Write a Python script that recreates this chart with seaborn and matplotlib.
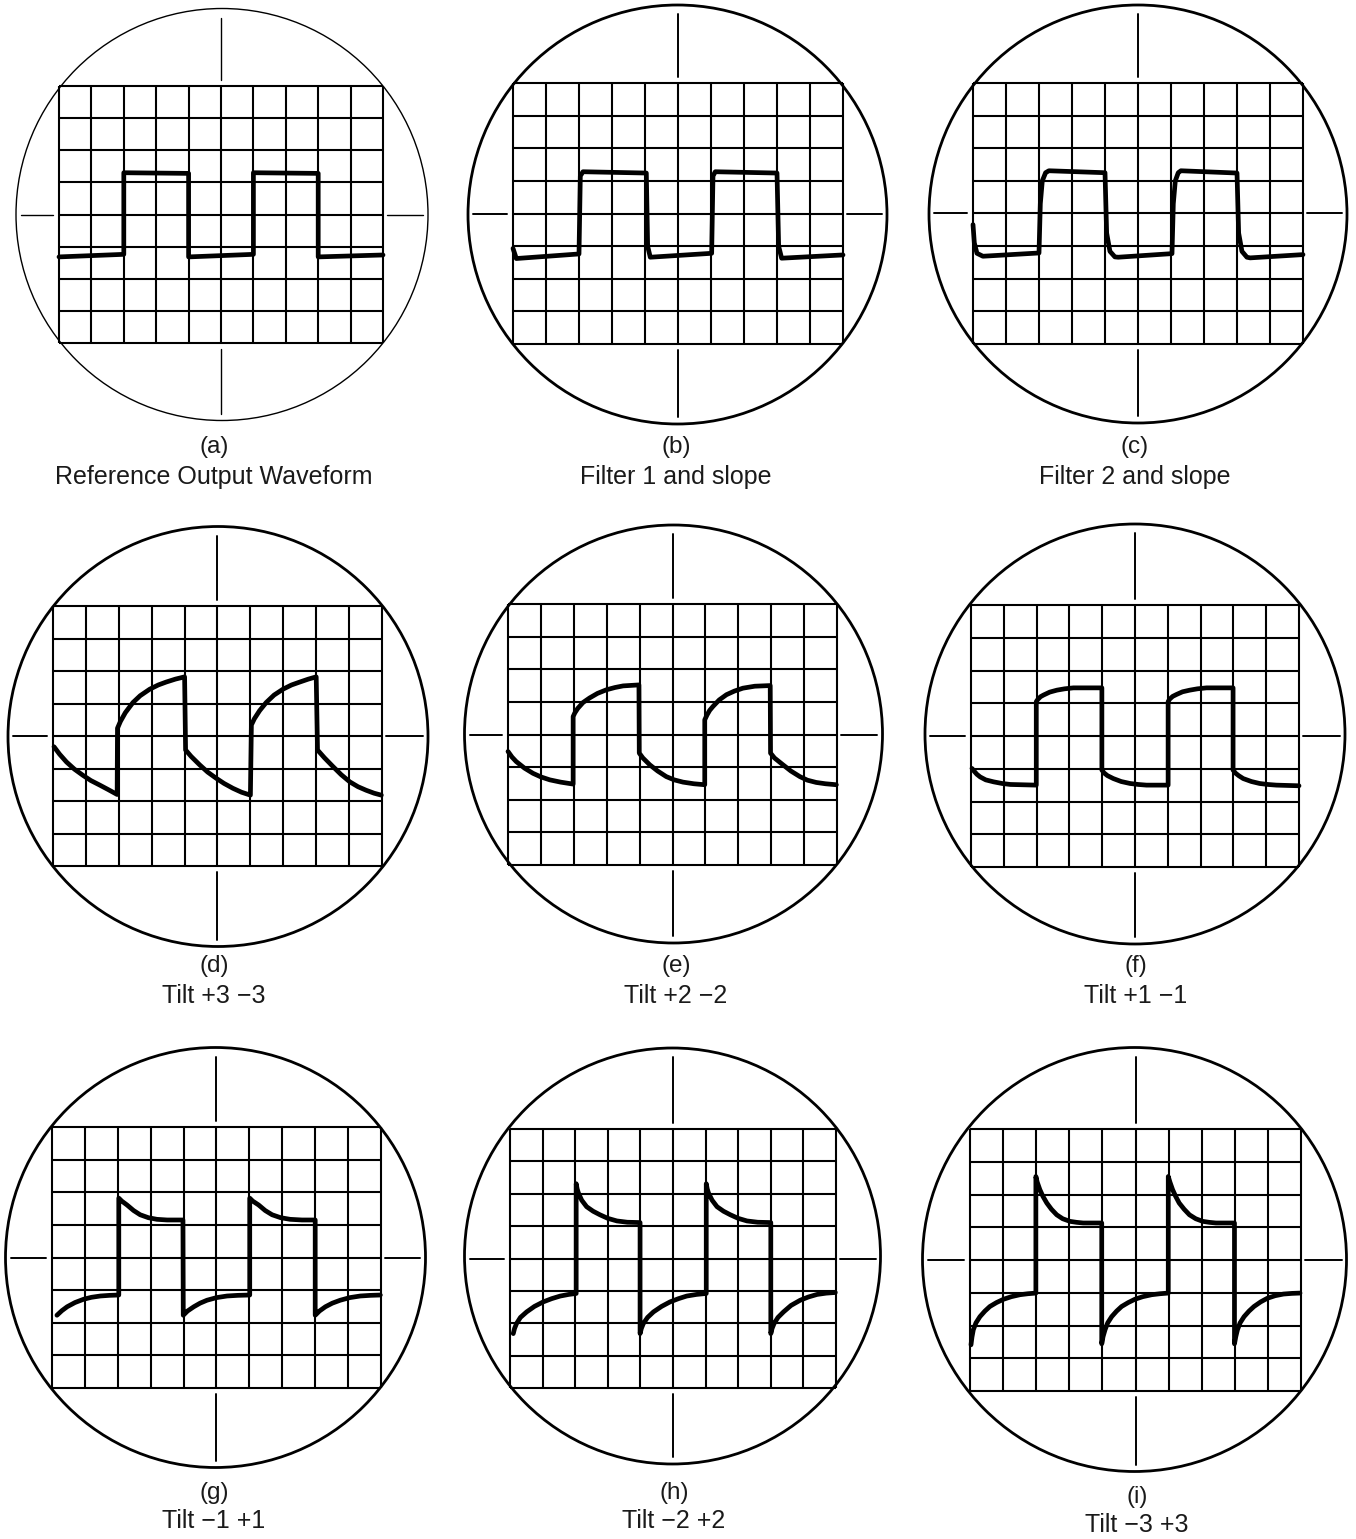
import numpy as np
import matplotlib
matplotlib.use("Agg")
import matplotlib.pyplot as plt
from matplotlib.patches import Ellipse
import seaborn as sns

sns.set_theme(style="white")
plt.rcParams['font.family'] = ['Liberation Sans', 'DejaVu Sans']

# ---------------- text ----------------
panel_letters = ["(a)", "(b)", "(c)", "(d)", "(e)", "(f)", "(g)", "(h)", "(i)"]
panel_titles = ["Reference Output Waveform", "Filter 1 and slope", "Filter 2 and slope",
                "Tilt +3 \u22123", "Tilt +2 \u22122", "Tilt +1 \u22121",
                "Tilt \u22121 +1", "Tilt \u22122 +2", "Tilt \u22123 +3"]

# ---------------- waveform data (grid divisions: x 0..10, y 0..8) ----------------
a_x = [0, 2, 2, 4, 4, 6, 6, 8, 8, 10]
a_y = [2.68, 2.76, 5.30, 5.28, 2.68, 2.76, 5.30, 5.28, 2.68, 2.74]

b_x = [0, 0.1, 2.0, 2.04, 2.12, 4.04, 4.08, 4.16, 6.02, 6.06, 6.13, 8.0, 8.05, 8.14, 10]
b_y = [2.93, 2.62, 2.76, 5.15, 5.28, 5.24, 3.0, 2.66, 2.78, 5.15, 5.28, 5.24, 3.0, 2.63, 2.73]

c_x = [0, 0.04, 0.12, 0.3, 2.0, 2.04, 2.1, 2.2, 2.3, 4.0, 4.05, 4.15, 4.3, 4.4,
       6.03, 6.07, 6.13, 6.22, 6.3, 8.0, 8.05, 8.15, 8.3, 8.4, 10]
c_y = [3.66, 3.1, 2.78, 2.69, 2.79, 4.3, 5.0, 5.25, 5.31, 5.25, 3.4, 2.84, 2.67, 2.66,
       2.77, 4.3, 5.0, 5.25, 5.31, 5.24, 3.4, 2.84, 2.66, 2.64, 2.74]

d_x = [0.03, 0.2, 0.41, 0.65, 0.91, 1.15, 1.42, 1.68, 1.95,
       1.96, 2.05, 2.2, 2.43, 2.65, 2.94, 3.2, 3.44, 3.72, 4.0,
       4.03, 4.2, 4.46, 4.7, 4.96, 5.2, 5.47, 5.73, 6.0,
       6.03, 6.12, 6.28, 6.48, 6.72, 6.99, 7.25, 7.5, 7.76, 8.0,
       8.04, 8.25, 8.51, 8.76, 9.02, 9.27, 9.52, 9.76, 9.98]
d_y = [3.67, 3.44, 3.20, 2.98, 2.79, 2.63, 2.49, 2.35, 2.20,
       4.24, 4.45, 4.72, 5.03, 5.24, 5.44, 5.57, 5.66, 5.75, 5.82,
       3.57, 3.37, 3.11, 2.89, 2.70, 2.54, 2.39, 2.27, 2.18,
       4.34, 4.53, 4.78, 5.03, 5.26, 5.44, 5.57, 5.66, 5.75, 5.82,
       3.57, 3.33, 3.06, 2.81, 2.59, 2.44, 2.33, 2.24, 2.18]

e_x = [0, 0.12, 0.25, 0.5, 0.76, 1.0, 1.27, 1.6, 1.98,
       1.98, 2.03, 2.12, 2.28, 2.48, 2.72, 2.99, 3.25, 3.5, 3.98,
       3.99, 4.1, 4.31, 4.55, 4.81, 5.05, 5.32, 5.65, 5.98,
       5.98, 6.05, 6.13, 6.23, 6.42, 6.64, 6.88, 7.14, 7.5, 7.97,
       7.98, 8.1, 8.36, 8.6, 8.87, 9.1, 9.37, 9.65, 9.98]
e_y = [3.48, 3.31, 3.17, 2.97, 2.81, 2.70, 2.61, 2.54, 2.48,
       4.55, 4.66, 4.80, 4.98, 5.12, 5.26, 5.37, 5.44, 5.49, 5.52,
       3.43, 3.28, 3.07, 2.88, 2.71, 2.61, 2.54, 2.49, 2.46,
       4.45, 4.60, 4.74, 4.86, 5.06, 5.22, 5.33, 5.42, 5.48, 5.50,
       3.43, 3.28, 3.07, 2.88, 2.71, 2.60, 2.53, 2.49, 2.46]

f_x = [0.03, 0.1, 0.18, 0.28, 0.45, 0.69, 0.95, 1.2, 1.6, 1.99,
       1.99, 2.04, 2.12, 2.21, 2.4, 2.62, 2.85, 3.12, 3.5, 3.99,
       3.99, 4.06, 4.16, 4.34, 4.58, 4.85, 5.1, 5.35, 5.7, 6.01,
       6.01, 6.06, 6.15, 6.27, 6.45, 6.67, 6.9, 7.18, 7.6, 7.99,
       7.99, 8.06, 8.16, 8.3, 8.55, 8.8, 9.05, 9.31, 9.65, 10]
f_y = [3.01, 2.92, 2.83, 2.75, 2.66, 2.60, 2.55, 2.52, 2.51, 2.50,
       5.05, 5.12, 5.20, 5.25, 5.34, 5.40, 5.44, 5.47, 5.47, 5.47,
       2.96, 2.87, 2.79, 2.70, 2.61, 2.55, 2.52, 2.50, 2.50, 2.50,
       5.05, 5.13, 5.21, 5.27, 5.35, 5.40, 5.44, 5.47, 5.47, 5.47,
       2.96, 2.87, 2.79, 2.70, 2.61, 2.55, 2.52, 2.50, 2.49, 2.48]

g_x = [0.15, 0.3, 0.46, 0.7, 0.96, 1.2, 1.47, 1.75, 2.03,
       2.03, 2.12, 2.28, 2.48, 2.68, 2.93, 3.19, 3.5, 3.98,
       3.99, 4.12, 4.31, 4.5, 4.71, 5.0, 5.32, 5.65, 6.01,
       6.01, 6.1, 6.28, 6.48, 6.69, 6.95, 7.24, 7.6, 8.0,
       8.0, 8.13, 8.31, 8.52, 8.76, 9.05, 9.37, 9.68, 9.98]
g_y = [2.23, 2.37, 2.49, 2.62, 2.72, 2.78, 2.82, 2.84, 2.85,
       5.82, 5.73, 5.61, 5.44, 5.31, 5.22, 5.17, 5.15, 5.15,
       2.23, 2.36, 2.49, 2.60, 2.69, 2.77, 2.82, 2.84, 2.85,
       5.82, 5.73, 5.61, 5.44, 5.31, 5.22, 5.17, 5.15, 5.15,
       2.23, 2.36, 2.49, 2.60, 2.69, 2.77, 2.82, 2.84, 2.85]

h_x = [0.1, 0.14, 0.2, 0.32, 0.51, 0.75, 1.02, 1.28, 1.54, 1.8, 2.03,
       2.03, 2.06, 2.1, 2.2, 2.35, 2.55, 2.76, 3.0, 3.28, 3.6, 3.99,
       3.99, 4.03, 4.09, 4.22, 4.4, 4.65, 4.91, 5.17, 5.42, 5.72, 6.02,
       6.02, 6.05, 6.09, 6.2, 6.35, 6.55, 6.76, 7.0, 7.27, 7.6, 8.0,
       8.0, 8.04, 8.1, 8.22, 8.39, 8.62, 8.9, 9.15, 9.42, 9.7, 9.98]
h_y = [1.68, 1.84, 1.99, 2.18, 2.35, 2.52, 2.66, 2.76, 2.84, 2.89, 2.92,
       6.31, 6.15, 6.02, 5.80, 5.60, 5.46, 5.35, 5.24, 5.16, 5.12, 5.11,
       1.68, 1.84, 1.99, 2.18, 2.35, 2.52, 2.66, 2.76, 2.84, 2.89, 2.92,
       6.31, 6.15, 6.02, 5.80, 5.60, 5.46, 5.35, 5.24, 5.16, 5.12, 5.11,
       1.68, 1.84, 1.99, 2.18, 2.35, 2.55, 2.71, 2.81, 2.89, 2.93, 2.95]

i_x = [0.03, 0.06, 0.1, 0.18, 0.3, 0.45, 0.6, 0.8, 1.01, 1.25, 1.51, 1.75, 1.99,
       1.99, 2.03, 2.11, 2.2, 2.32, 2.46, 2.62, 2.8, 3.02, 3.22, 3.42, 3.98,
       3.98, 4.02, 4.08, 4.16, 4.28, 4.43, 4.58, 4.78, 4.98, 5.22, 5.49, 5.74, 5.99,
       5.99, 6.04, 6.12, 6.21, 6.32, 6.47, 6.63, 6.82, 7.03, 7.23, 7.43, 7.99,
       7.99, 8.03, 8.08, 8.16, 8.28, 8.43, 8.58, 8.78, 8.98, 9.22, 9.47, 9.72, 9.97]
i_y = [1.41, 1.65, 1.87, 2.08, 2.27, 2.44, 2.58, 2.70, 2.80, 2.88, 2.94, 2.97, 2.99,
       6.55, 6.38, 6.15, 5.95, 5.74, 5.55, 5.38, 5.26, 5.18, 5.15, 5.13, 5.13,
       1.44, 1.66, 1.87, 2.08, 2.27, 2.44, 2.58, 2.70, 2.80, 2.88, 2.94, 2.97, 2.99,
       6.55, 6.38, 6.15, 5.95, 5.74, 5.55, 5.38, 5.26, 5.18, 5.15, 5.13, 5.13,
       1.44, 1.66, 1.87, 2.08, 2.27, 2.44, 2.58, 2.72, 2.83, 2.91, 2.96, 2.98, 2.99]

waveforms = [(a_x, a_y), (b_x, b_y), (c_x, c_y), (d_x, d_y), (e_x, e_y),
             (f_x, f_y), (g_x, g_y), (h_x, h_y), (i_x, i_y)]

# ---------------- layout (pixels) ----------------
W, H = 1356, 1539
GRID = [(59, 383, 86, 343), (513, 843, 83, 344), (973, 1303, 83, 344),
        (53, 382, 606, 866), (508, 837, 604, 865), (971, 1299, 605, 867),
        (52, 381, 1127, 1388), (510, 836, 1129, 1388), (970, 1301, 1129, 1391)]
CIRC = [(222, 214.5, 206), (677.5, 214.5, 209.5), (1138, 214, 209),
        (218, 736.5, 210), (673.5, 734, 209), (1135, 734, 210),
        (215.5, 1257.5, 210), (672.5, 1256, 208), (1134.5, 1259.5, 212)]
TEXT_X = [214, 676, 1135, 214, 676, 1136, 214, 674, 1137]
TEXT_Y = [(447, 477), (447, 477), (447, 477),
          (966, 996), (966, 996), (966, 996),
          (1493, 1521), (1493, 1521), (1497, 1525)]

fig = plt.figure(figsize=(W / 100, H / 100), dpi=100)
fig.patch.set_facecolor("white")

for k in range(9):
    gx0, gx1, gy0, gy1 = GRID[k]
    cx, cy, r = CIRC[k]
    cw = (gx1 - gx0) / 10.0
    ch = (gy1 - gy0) / 8.0
    m = 6
    L, R, T, B = cx - r - m, cx + r + m, cy - r - m, cy + r + m
    ax = fig.add_axes([L / W, 1 - B / H, (R - L) / W, (B - T) / H])
    ax.set_xlim((L - gx0) / cw, (R - gx0) / cw)
    ax.set_ylim((gy1 - B) / ch, (gy1 - T) / ch)
    ax.axis("off")

    # graticule
    ax.vlines(np.arange(11), 0, 8, color="black", lw=1.5, zorder=1)
    ax.hlines(np.arange(9), 0, 10, color="black", lw=1.5, zorder=1)

    # screen circle
    clw = 1.0 if k == 0 else 2.0
    ax.add_patch(Ellipse(((cx - gx0) / cw, (gy1 - cy) / ch), 2 * r / cw, 2 * r / ch,
                         fill=False, ec="black", lw=clw, zorder=2))

    # crosshair ticks outside graticule
    tlw = 1.0 if k == 0 else 1.4
    ccx = (cx - gx0) / cw
    ccy = (gy1 - cy) / ch
    ax.plot([5, 5], [8 + 6 / ch, ccy + (r - 9) / ch], color="black", lw=tlw)
    ax.plot([5, 5], [-6 / ch, ccy - (r - 7) / ch], color="black", lw=tlw)
    ax.plot([-6 / cw, ccx - (r - 5) / cw], [4, 4], color="black", lw=tlw)
    ax.plot([10 + 4 / cw, ccx + (r - 5) / cw], [4, 4], color="black", lw=tlw)

    # waveform
    wx, wy = waveforms[k]
    sns.lineplot(x=wx, y=wy, sort=False, estimator=None, ax=ax, color="black",
                 lw=3.4, solid_joinstyle="round", solid_capstyle="round", zorder=3)

    # labels
    fig.text(TEXT_X[k] / W, 1 - TEXT_Y[k][0] / H, panel_letters[k],
             ha="center", va="center", fontsize=17.5, color="#1a1a1a")
    fig.text(TEXT_X[k] / W, 1 - TEXT_Y[k][1] / H, panel_titles[k],
             ha="center", va="center", fontsize=18, color="#1a1a1a")

fig.savefig("out.png", dpi=100, facecolor="white")
